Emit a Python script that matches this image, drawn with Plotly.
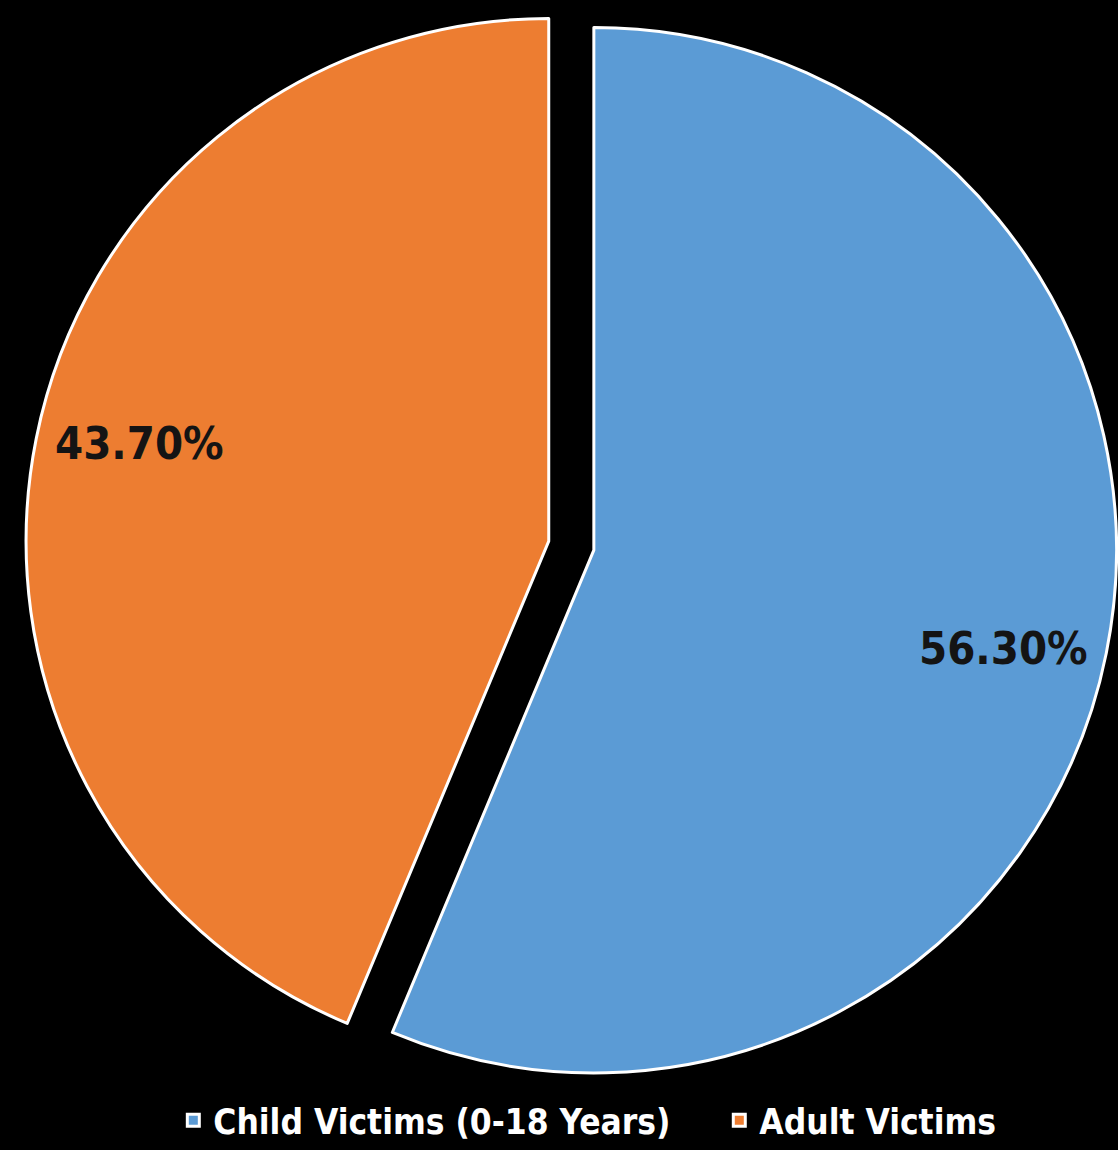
import math
import plotly.graph_objects as go

categories = ["Child Victims (0-18 Years)", "Adult Victims"]
values = [56.30, 43.70]
text_labels = ["56.30%", "43.70%"]
colors = ["#5B9BD5", "#ED7D31"]

W, H = 1118, 1150
pull = 0.044
dom_x = [0.022, 1.0]
dom_y = [0.051, 1.0]
label_radius = 0.85        # fraction of radius from pie centre
label_angle_shift = 2.0    # degrees, clockwise
FONT = "DejaVu Sans Condensed, DejaVu Sans"

# legend entries get a little trailing space, as in the original legend spacing
legend_labels = [c + "\u00a0" * 4 for c in categories]

fig = go.Figure(go.Pie(
    labels=legend_labels,
    values=values,
    textinfo="none",
    sort=False,
    direction="clockwise",
    rotation=0,
    pull=[pull, pull],
    marker=dict(colors=colors, line=dict(color="#FFFFFF", width=3)),
    domain=dict(x=dom_x, y=dom_y),
    hoverinfo="label+percent",
))

cx = W * (dom_x[0] + dom_x[1]) / 2
cy = H * (1 - (dom_y[0] + dom_y[1]) / 2)
r = min(W * (dom_x[1] - dom_x[0]), H * (dom_y[1] - dom_y[0])) / (2 + 2 * pull)
total = sum(values)
cum = 0.0
for v, t in zip(values, text_labels):
    mid = 2 * math.pi * (cum + v / 2) / total + math.radians(label_angle_shift)
    cum += v
    px = cx + label_radius * r * math.sin(mid)
    py = cy - label_radius * r * math.cos(mid)
    fig.add_annotation(
        x=px / W, y=1 - py / H, xref="paper", yref="paper",
        text=t, showarrow=False, xanchor="center", yanchor="middle",
        font=dict(family=FONT, size=45, color="#141414", weight="bold"),
    )

fig.update_layout(
    width=W,
    height=H,
    paper_bgcolor="#000000",
    plot_bgcolor="#000000",
    margin=dict(l=0, r=0, t=0, b=0),
    showlegend=True,
    legend=dict(
        orientation="h",
        x=0.545, xanchor="center",
        y=0.0, yanchor="bottom",
        font=dict(family=FONT, size=35, color="#FFFFFF", weight="bold"),
        bgcolor="rgba(0,0,0,0)",
    ),
)

fig.write_html(
    "out.html",
    config={"displayModeBar": False},
    post_script="document.body.style.margin='0';document.body.style.background='#000';",
)
